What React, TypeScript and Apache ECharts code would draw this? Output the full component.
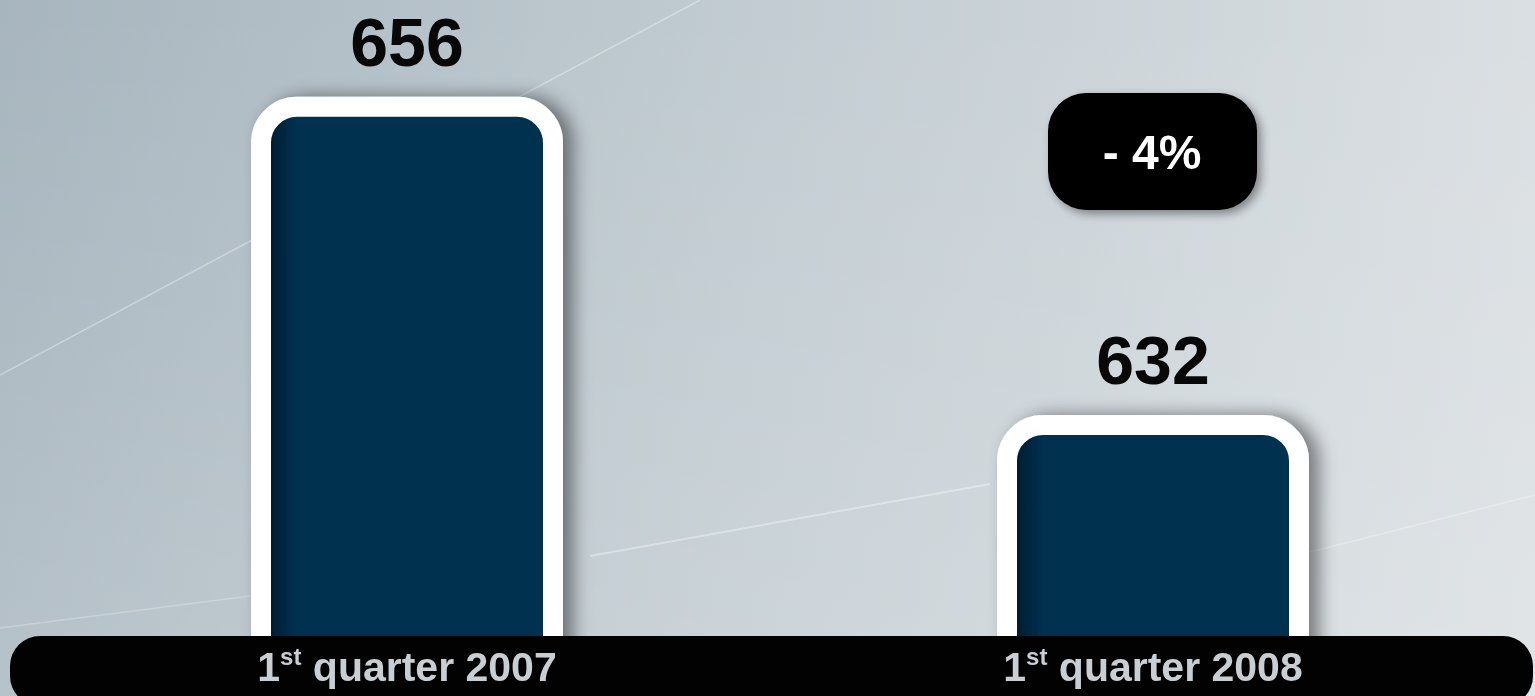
import React, { useEffect, useRef } from "react";
import * as echarts from "echarts";

const categories = ["1st quarter 2007", "1st quarter 2008"];
const values = [656, 632];
const axisMin = 613;
const axisMax = 663;

const FONT = "'Liberation Sans', Arial, sans-serif";

function splitOrdinal(label: string) {
  const m = label.match(/^(\d+)(st|nd|rd|th)(.*)$/);
  if (!m) return `{a|${label}}`;
  return `{a|${m[1]}}{s|${m[2]}}{a|${m[3]}}`;
}

export default function App() {
  const ref = useRef<HTMLDivElement>(null);
  useEffect(() => {
    if (!ref.current) return;
    const chart = echarts.init(ref.current, undefined, { renderer: "svg" });
    const change = Math.round(((values[1] - values[0]) / values[0]) * 100);
    const changeText = (change < 0 ? "- " : "+ ") + Math.abs(change) + "%";
    const W = 1535;
    const H = 696;
    chart.setOption({
      animation: false,
      grid: { left: 34, right: 9, top: 4, bottom: 29.25 },
      xAxis: {
        type: "category",
        data: categories,
        z: 10,
        axisLine: { show: false },
        axisTick: { show: false },
        axisLabel: {
          margin: -22,
          formatter: (v: string) => splitOrdinal(v),
          rich: {
            a: {
              fontFamily: FONT,
              fontWeight: "bold",
              fontSize: 41,
              lineHeight: 44,
              color: "#c9ced3",
            },
            s: {
              fontFamily: FONT,
              fontWeight: "bold",
              fontSize: 24,
              lineHeight: 30,
              verticalAlign: "top",
              color: "#c9ced3",
            },
          },
        },
      },
      yAxis: {
        type: "value",
        min: axisMin,
        max: axisMax,
        show: false,
        splitLine: { show: false },
      },
      graphic: [
        {
          type: "rect",
          z: -10,
          shape: { x: 0, y: 0, width: W, height: H },
          style: {
            fill: new echarts.graphic.LinearGradient(0, 0, 1, 0, [
              { offset: 0, color: "#a7b5be" },
              { offset: 0.5, color: "#c2ccd2" },
              { offset: 1, color: "#dadfe2" },
            ]),
          },
          silent: true,
        },
        {
          type: "rect",
          z: -9,
          shape: { x: 0, y: 0, width: W, height: H },
          style: {
            fill: new echarts.graphic.LinearGradient(0, 0, 0, 1, [
              { offset: 0, color: "rgba(255,255,255,0)" },
              { offset: 1, color: "rgba(255,255,255,0.18)" },
            ]),
          },
          silent: true,
        },
        {
          type: "line",
          z: -8,
          shape: { x1: 0, y1: 375, x2: 700, y2: 0 },
          style: { stroke: "rgba(255,255,255,0.35)", lineWidth: 1.5 },
          silent: true,
        },
        {
          type: "line",
          z: -8,
          shape: { x1: 590, y1: 556, x2: 990, y2: 484 },
          style: { stroke: "rgba(255,255,255,0.35)", lineWidth: 2 },
          silent: true,
        },
        {
          type: "line",
          z: -8,
          shape: { x1: 1310, y1: 552, x2: 1535, y2: 495 },
          style: { stroke: "rgba(255,255,255,0.3)", lineWidth: 1.5 },
          silent: true,
        },
        {
          type: "line",
          z: -8,
          shape: { x1: 0, y1: 628, x2: 250, y2: 596 },
          style: { stroke: "rgba(255,255,255,0.25)", lineWidth: 1.5 },
          silent: true,
        },
        {
          type: "rect",
          z: 5,
          shape: { x: 10, y: 636, width: 1523, height: 70, r: 30 },
          style: { fill: "#020202" },
          silent: true,
        },
        {
          type: "rect",
          z: 5,
          shape: { x: 1048, y: 93, width: 209, height: 117, r: 38 },
          style: {
            fill: "#000000",
            shadowBlur: 10,
            shadowOffsetX: 4,
            shadowOffsetY: 4,
            shadowColor: "rgba(0,0,0,0.4)",
          },
          silent: true,
        },
        {
          type: "text",
          z: 6,
          x: 1152,
          y: 152,
          style: {
            text: changeText,
            fontFamily: FONT,
            fontWeight: "bold",
            fontSize: 48,
            fill: "#ffffff",
            align: "center",
            verticalAlign: "middle",
          },
          silent: true,
        },
      ],
      series: [
        {
          type: "bar",
          data: values,
          barWidth: 312,
          z: 2,
          itemStyle: {
            color: new echarts.graphic.LinearGradient(0, 0, 1, 0, [
              { offset: 0, color: "#011627" },
              { offset: 0.12, color: "#05304f" },
              { offset: 1, color: "#05304f" },
            ]),
            borderColor: "#ffffff",
            borderWidth: 20,
            borderRadius: [36, 36, 0, 0],
            shadowBlur: 18,
            shadowOffsetX: 10,
            shadowOffsetY: 0,
            shadowColor: "rgba(0,0,0,0.45)",
          },
          label: {
            show: true,
            position: "top",
            distance: 21,
            fontFamily: FONT,
            fontWeight: "bold",
            fontSize: 68,
            color: "#080808",
          },
        },
      ],
    });
    return () => chart.dispose();
  }, []);
  return (
    <div
      ref={ref}
      style={{ position: "fixed", left: 0, top: 0, width: 1535, height: 696 }}
    />
  );
}
